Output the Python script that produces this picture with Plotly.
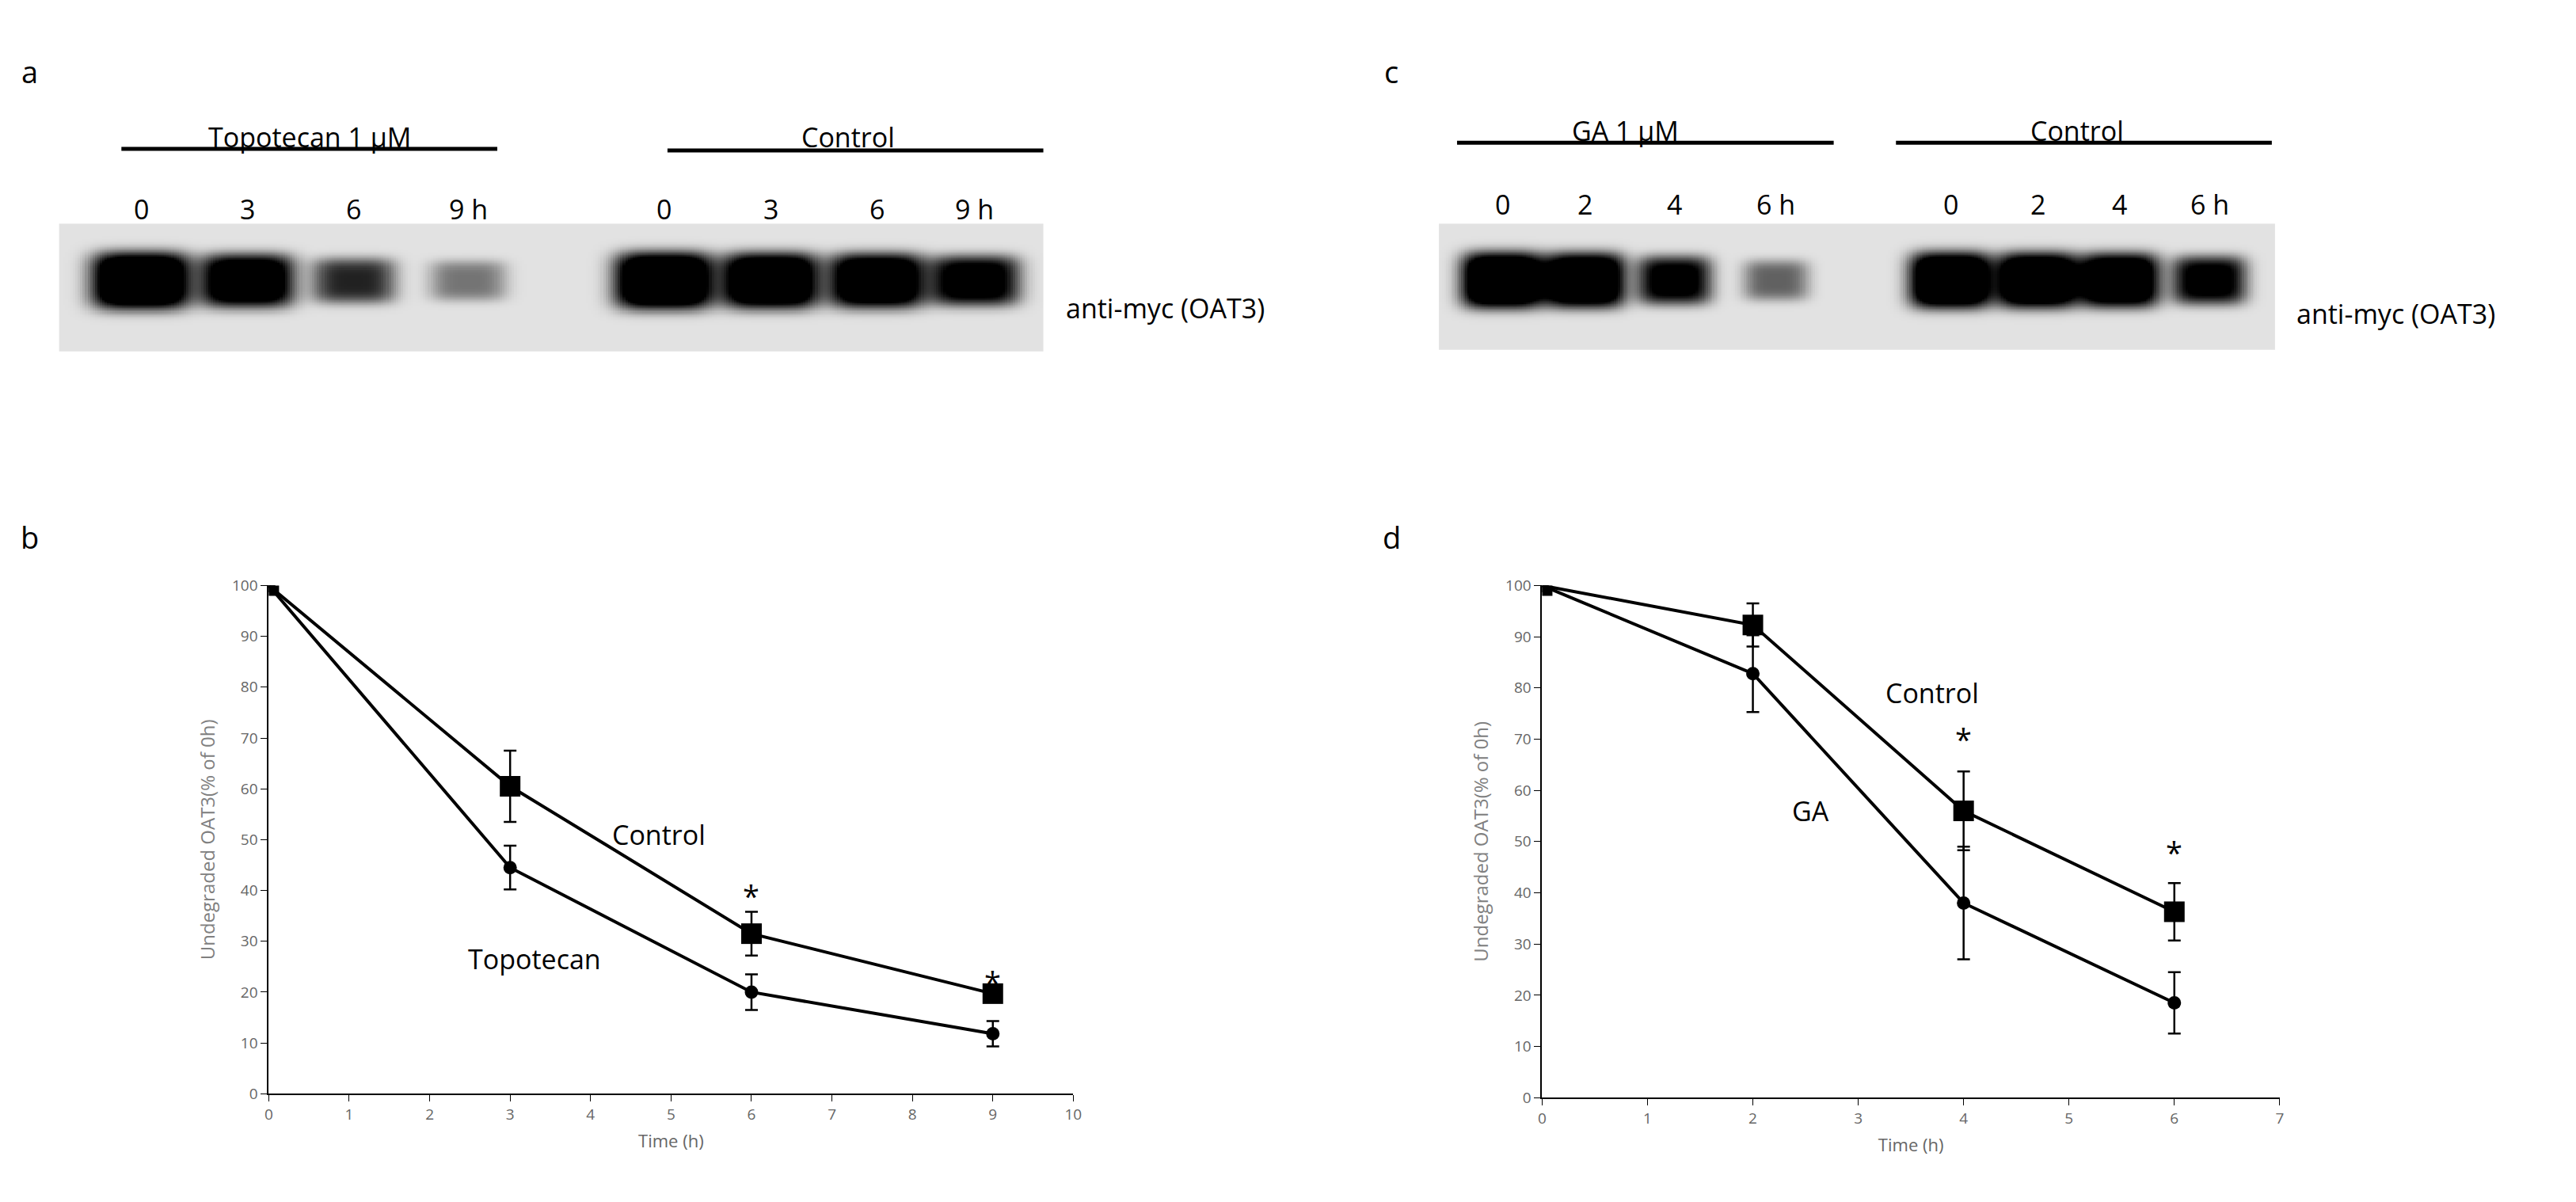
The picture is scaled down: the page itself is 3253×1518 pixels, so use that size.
import numpy as np
import plotly.graph_objects as go

# ---- data ----
time_b = [0, 3, 6, 9]
topo = [100, 44.5, 20.0, 11.8]
topo_err = [0, 4.3, 3.5, 2.5]
ctrl_b = [100, 60.5, 31.5, 19.7]
ctrl_b_err = [0, 7.0, 4.3, 1.0]

time_d = [0, 2, 4, 6]
ga = [100, 82.8, 38.0, 18.5]
ga_err = [0, 7.5, 11.0, 6.0]
ctrl_d = [100, 92.3, 56.0, 36.3]
ctrl_d_err = [0, 4.2, 7.7, 5.6]

lanes_a = ["0", "3", "6", "9 h", "0", "3", "6", "9 h"]
lanes_c = ["0", "2", "4", "6 h", "0", "2", "4", "6 h"]
band_a = [1.0, 0.85, 0.5, 0.28, 1.0, 0.95, 0.9, 0.72]
band_c = [1.0, 0.95, 0.68, 0.33, 1.0, 0.97, 0.92, 0.68]

W, H = 3253, 1518
def px(x): return x / W
def py(y): return 1 - y / H

fig = go.Figure()
FONT = "Open Sans"

# ---- blots ----
def blot(xaxis, yaxis, centers, inten, x0, x1, bw):
    gx = np.linspace(x0, x1, 400)
    gy = np.linspace(0, 1, 80)
    X, Y = np.meshgrid(gx, gy)
    Z = np.zeros_like(X)
    for c, i in zip(centers, inten):
        Z += 1.7 * i * np.exp(-(((X - c) / (bw * (0.7 + 0.3 * i))) ** 4 + ((Y - 0.55) / (0.22 * (0.6 + 0.4 * i))) ** 4))
    Z = np.clip(Z, 0, 1)
    fig.add_trace(go.Heatmap(x=gx, y=gy, z=Z, xaxis=xaxis, yaxis=yaxis, showscale=False,
                             zmin=0, zmax=1, hoverinfo="skip",
                             colorscale=[[0, "rgb(226,226,226)"], [0.5, "rgb(110,110,110)"], [1, "rgb(0,0,0)"]]))

lane_px_a = [166, 301, 436, 581, 830, 965, 1100, 1224]
lane_px_c = [1894, 1998, 2112, 2241, 2463, 2573, 2677, 2791]
blot("x3", "y3", lane_px_a, band_a, 62, 1311, 62)
blot("x4", "y4", lane_px_c, band_c, 1813, 2874, 52)

# ---- line charts ----
def series(x, y, e, sym, size, xa, ya):
    fig.add_trace(go.Scatter(x=x, y=y, xaxis=xa, yaxis=ya, mode="lines+markers",
                             line=dict(color="black", width=4),
                             marker=dict(symbol=sym, size=size, color="black"),
                             error_y=dict(type="data", array=e, color="black", thickness=2.5, width=8),
                             showlegend=False))

series(time_b, ctrl_b, ctrl_b_err, "square", 26, "x", "y")
series(time_b, topo, topo_err, "circle", 17, "x", "y")
series(time_d, ctrl_d, ctrl_d_err, "square", 26, "x2", "y2")
series(time_d, ga, ga_err, "circle", 17, "x2", "y2")

ax = dict(showgrid=False, zeroline=False, showline=True, linecolor="black", linewidth=2,
          ticks="outside", ticklen=8, tickcolor="black",
          tickfont=dict(family=FONT, size=19, color="#666666"))
ylab = dict(text="Undegraded OAT3(% of 0h)", font=dict(family=FONT, size=24, color="#808080"))
xlab = dict(text="Time (h)", font=dict(family=FONT, size=22, color="#666666"))

fig.update_layout(
    width=W, height=H, margin=dict(l=0, r=0, t=0, b=0),
    paper_bgcolor="white", plot_bgcolor="white",
    xaxis=dict(ax, domain=[px(328), px(1349)], range=[0, 10], dtick=1, anchor="y", title=xlab),
    yaxis=dict(ax, domain=[py(1384), py(731)], range=[0, 100], dtick=10, anchor="x", title=ylab),
    xaxis2=dict(ax, domain=[px(1944), px(2880)], range=[0, 7], dtick=1, anchor="y2", title=xlab),
    yaxis2=dict(ax, domain=[py(1389), py(731)], range=[0, 100], dtick=10, anchor="x2", title=ylab),
    xaxis3=dict(domain=[px(62), px(1311)], range=[62, 1311], visible=False, anchor="y3"),
    yaxis3=dict(domain=[py(430), py(266)], range=[0, 1], visible=False, anchor="x3"),
    xaxis4=dict(domain=[px(1813), px(2874)], range=[1813, 2874], visible=False, anchor="y4"),
    yaxis4=dict(domain=[py(428), py(266)], range=[0, 1], visible=False, anchor="x4"),
)

ann = []
def t(x, y, s, size=34, xa="paper", ya="paper", anchor="center", color="black"):
    ann.append(dict(x=x, y=y, xref=xa, yref=ya, text=s, showarrow=False, xanchor=anchor,
                    font=dict(family=FONT, size=size, color=color)))

for letter, x, y in [("a", 25, 42), ("c", 1753, 42), ("b", 25, 668), ("d", 1753, 668)]:
    t(px(x), py(y), letter, 38)

t(px(380), py(129), "Topotecan 1 μM")
t(px(1063), py(129), "Control")
t(px(2050), py(121), "GA 1 μM")
t(px(2623), py(121), "Control")
for xs, lbls, ly in [(lane_px_a, lanes_a, 222), (lane_px_c, lanes_c, 216)]:
    for x, s in zip(xs, lbls):
        t(px(x), py(ly), s)
t(px(1338), py(349), "anti-myc (OAT3)", anchor="left")
t(px(2899), py(356), "anti-myc (OAT3)", anchor="left")

t(4.85, 51, "Control", xa="x", ya="y")
t(3.3, 26.5, "Topotecan", xa="x", ya="y")
t(6, 39, "*", 38, xa="x", ya="y")
t(9, 22, "*", 38, xa="x", ya="y")
t(3.7, 79, "Control", xa="x2", ya="y2")
t(2.55, 56, "GA", xa="x2", ya="y2")
t(4, 70, "*", 38, xa="x2", ya="y2")
t(6, 48, "*", 38, xa="x2", ya="y2")
fig.update_layout(annotations=ann)

shapes = []
for x0, x1, y in [(141, 618, 170), (834, 1311, 172), (1836, 2314, 162), (2393, 2870, 162)]:
    shapes.append(dict(type="line", xref="paper", yref="paper", x0=px(x0), x1=px(x1), y0=py(y), y1=py(y),
                       line=dict(color="black", width=5)))
fig.update_layout(shapes=shapes)

fig.write_html("out.html")
